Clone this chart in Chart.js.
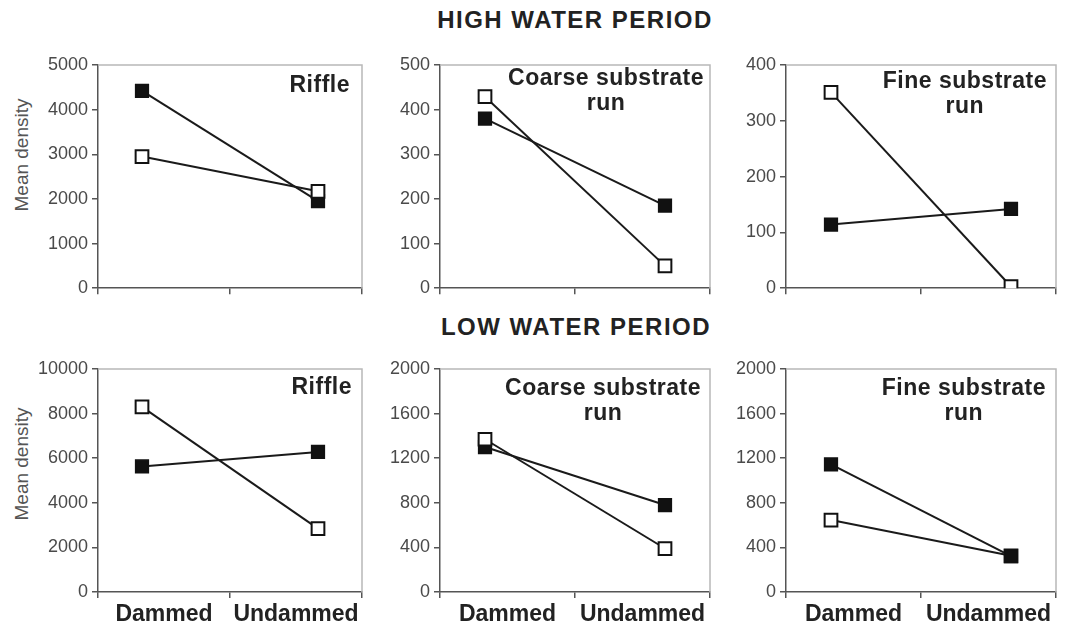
<!DOCTYPE html>
<html>
<head>
<meta charset="utf-8">
<script src="https://cdn.jsdelivr.net/npm/chart.js@4"></script>
<style>
  body { margin: 0; background: #fff; width: 1068px; height: 633px; position: relative; overflow: hidden; font-family: Arial, "Liberation Sans", sans-serif; }
  canvas { position: absolute; }
  .heading { position: absolute; transform: translate(-50%, -50%); font-weight: bold; font-size: 24px; letter-spacing: 1.5px; color: #222; white-space: nowrap; }
  .ytitle { position: absolute; transform: translate(-50%, -50%) rotate(-90deg); font-size: 19px; color: #555; white-space: nowrap; }
</style>
</head>
<body>
<div class="heading" style="left:575px; top:20px">HIGH WATER PERIOD</div>
<div class="heading" style="left:576px; top:327px">LOW WATER PERIOD</div>
<div class="ytitle" style="left:22px; top:155px">Mean density</div>
<div class="ytitle" style="left:22px; top:464px">Mean density</div>

<canvas id="highRiffle"></canvas>
<canvas id="highCoarse"></canvas>
<canvas id="highFine"></canvas>
<canvas id="lowRiffle"></canvas>
<canvas id="lowCoarse"></canvas>
<canvas id="lowFine"></canvas>

<script>
const categories = ["Dammed", "Undammed"];
const categoryPos = [0, 1];

// high water period (filled = black squares, open = white squares)
const highRiffleFilled = [4420, 1950];
const highRiffleOpen = [2950, 2170];
const highCoarseFilled = [380, 185];
const highCoarseOpen = [429, 50];
const highFineFilled = [114, 142];
const highFineOpen = [351, 3];

// low water period
const lowRiffleFilled = [5630, 6280];
const lowRiffleOpen = [8300, 2840];
const lowCoarseFilled = [1300, 780];
const lowCoarseOpen = [1370, 390];
const lowFineFilled = [1145, 321];
const lowFineOpen = [645, 325];

// y tick labels
const highRiffleTicks = [0, 1000, 2000, 3000, 4000, 5000];
const highCoarseTicks = [0, 100, 200, 300, 400, 500];
const highFineTicks = [0, 100, 200, 300, 400];
const lowRiffleTicks = [0, 2000, 4000, 6000, 8000, 10000];
const lowCoarseTicks = [0, 400, 800, 1200, 1600, 2000];
const lowFineTicks = [0, 400, 800, 1200, 1600, 2000];

// canvas boxes (Chart.js keeps ~11px on the right for the markers)
const cols = [
    { left: 0, axisW: 98, width: 373 },
    { left: 370, axisW: 70, width: 351 },
    { left: 716, axisW: 70, width: 351 }
];
const rows = [
    { top: 45, height: 258, xAxisH: 10, labels: false },
    { top: 349, height: 283, xAxisH: 40, labels: true }
];

const panels = [
    { id: "highRiffle", row: 0, col: 0, title: ["Riffle"], filled: highRiffleFilled, open: highRiffleOpen, ticks: highRiffleTicks, dy: 21, margin: 12 },
    { id: "highCoarse", row: 0, col: 1, title: ["Coarse substrate", "run"], filled: highCoarseFilled, open: highCoarseOpen, ticks: highCoarseTicks, dy: 14, margin: 6 },
    { id: "highFine", row: 0, col: 2, title: ["Fine substrate", "run"], filled: highFineFilled, open: highFineOpen, ticks: highFineTicks, dy: 17, margin: 9 },
    { id: "lowRiffle", row: 1, col: 0, title: ["Riffle"], filled: lowRiffleFilled, open: lowRiffleOpen, ticks: lowRiffleTicks, dy: 19, margin: 10 },
    { id: "lowCoarse", row: 1, col: 1, title: ["Coarse substrate", "run"], filled: lowCoarseFilled, open: lowCoarseOpen, ticks: lowCoarseTicks, dy: 20, margin: 9 },
    { id: "lowFine", row: 1, col: 2, title: ["Fine substrate", "run"], filled: lowFineFilled, open: lowFineOpen, ticks: lowFineTicks, dy: 20, margin: 10, filledOnTop: true }
];

// light grey frame on top and right of the plot area
const frame = {
    id: "frame",
    beforeDatasetsDraw(chart) {
        const { ctx, chartArea: a } = chart;
        ctx.save();
        ctx.strokeStyle = "#b8b8b8";
        ctx.lineWidth = 1.5;
        ctx.beginPath();
        ctx.moveTo(a.left, a.top);
        ctx.lineTo(a.right, a.top);
        ctx.lineTo(a.right, a.bottom);
        ctx.stroke();
        ctx.restore();
    }
};

// habitat name inside the plot, top right
const panelTitle = {
    id: "panelTitle",
    beforeDatasetsDraw(chart, args, opts) {
        const { ctx, chartArea: a } = chart;
        ctx.save();
        ctx.font = "bold 23px Arial, 'Liberation Sans', sans-serif";
        ctx.fillStyle = "#222";
        ctx.textBaseline = "middle";
        ctx.textAlign = "center";
        ctx.letterSpacing = "0.5px";
        const w = Math.max(...opts.lines.map(l => ctx.measureText(l).width));
        const cx = a.right - opts.margin - w / 2;
        opts.lines.forEach((l, i) => ctx.fillText(l, cx, a.top + opts.dy + i * 25));
        ctx.restore();
    }
};

const points = vals => categoryPos.map((x, i) => ({ x: x, y: vals[i] }));

panels.forEach(p => {
    const c = cols[p.col];
    const r = rows[p.row];
    const canvas = document.getElementById(p.id);
    canvas.width = c.width;
    canvas.height = r.height;
    canvas.style.left = c.left + "px";
    canvas.style.top = r.top + "px";

    const filledSet = {
        data: points(p.filled),
        xAxisID: "xl",
        borderColor: "#1a1a1a",
        borderWidth: 2,
        pointStyle: "rect",
        pointRadius: 9,
        pointBorderWidth: 1.5,
        pointBackgroundColor: "#111",
        pointBorderColor: "#111",
        order: p.filledOnTop ? 0 : 1
    };
    const openSet = {
        data: points(p.open),
        xAxisID: "xl",
        borderColor: "#1a1a1a",
        borderWidth: 2,
        pointStyle: "rect",
        pointRadius: 9,
        pointBorderWidth: 2,
        pointBackgroundColor: "#fff",
        pointBorderColor: "#111",
        order: p.filledOnTop ? 1 : 0
    };

    new Chart(canvas, {
        type: "line",
        data: { labels: categories, datasets: [filledSet, openSet] },
        options: {
            responsive: false,
            animation: false,
            devicePixelRatio: 1,
            layout: { padding: { top: 20, right: 4, left: 0, bottom: 0 } },
            plugins: {
                legend: { display: false },
                tooltip: { enabled: false },
                panelTitle: { lines: p.title, dy: p.dy, margin: p.margin }
            },
            scales: {
                xl: {
                    type: "linear",
                    display: false,
                    min: -0.25,
                    max: 1.25
                },
                x: {
                    type: "category",
                    position: "bottom",
                    offset: true,
                    grid: { offset: true, drawOnChartArea: false, drawTicks: true, tickLength: 6, color: "#555", lineWidth: 1.5 },
                    border: { color: "#555", width: 1.5 },
                    ticks: {
                        display: r.labels,
                        padding: 3,
                        maxRotation: 0,
                        minRotation: 0,
                        autoSkip: false,
                        color: "#222",
                        font: { family: "Arial, 'Liberation Sans', sans-serif", size: 23, weight: "bold" }
                    },
                    afterFit: s => { s.height = r.xAxisH; }
                },
                y: {
                    type: "linear",
                    min: 0,
                    max: p.ticks[p.ticks.length - 1],
                    afterBuildTicks: s => { s.ticks = p.ticks.map(v => ({ value: v })); },
                    grid: { drawOnChartArea: false, drawTicks: true, tickLength: 6, color: "#555", lineWidth: 1.5 },
                    border: { color: "#555", width: 1.5 },
                    ticks: {
                        padding: 4,
                        color: "#4a4a4a",
                        font: { family: "Arial, 'Liberation Sans', sans-serif", size: 18 },
                        callback: v => String(v)
                    },
                    afterFit: s => { s.width = c.axisW; }
                }
            }
        },
        plugins: [frame, panelTitle]
    });
});
</script>
</body>
</html>
